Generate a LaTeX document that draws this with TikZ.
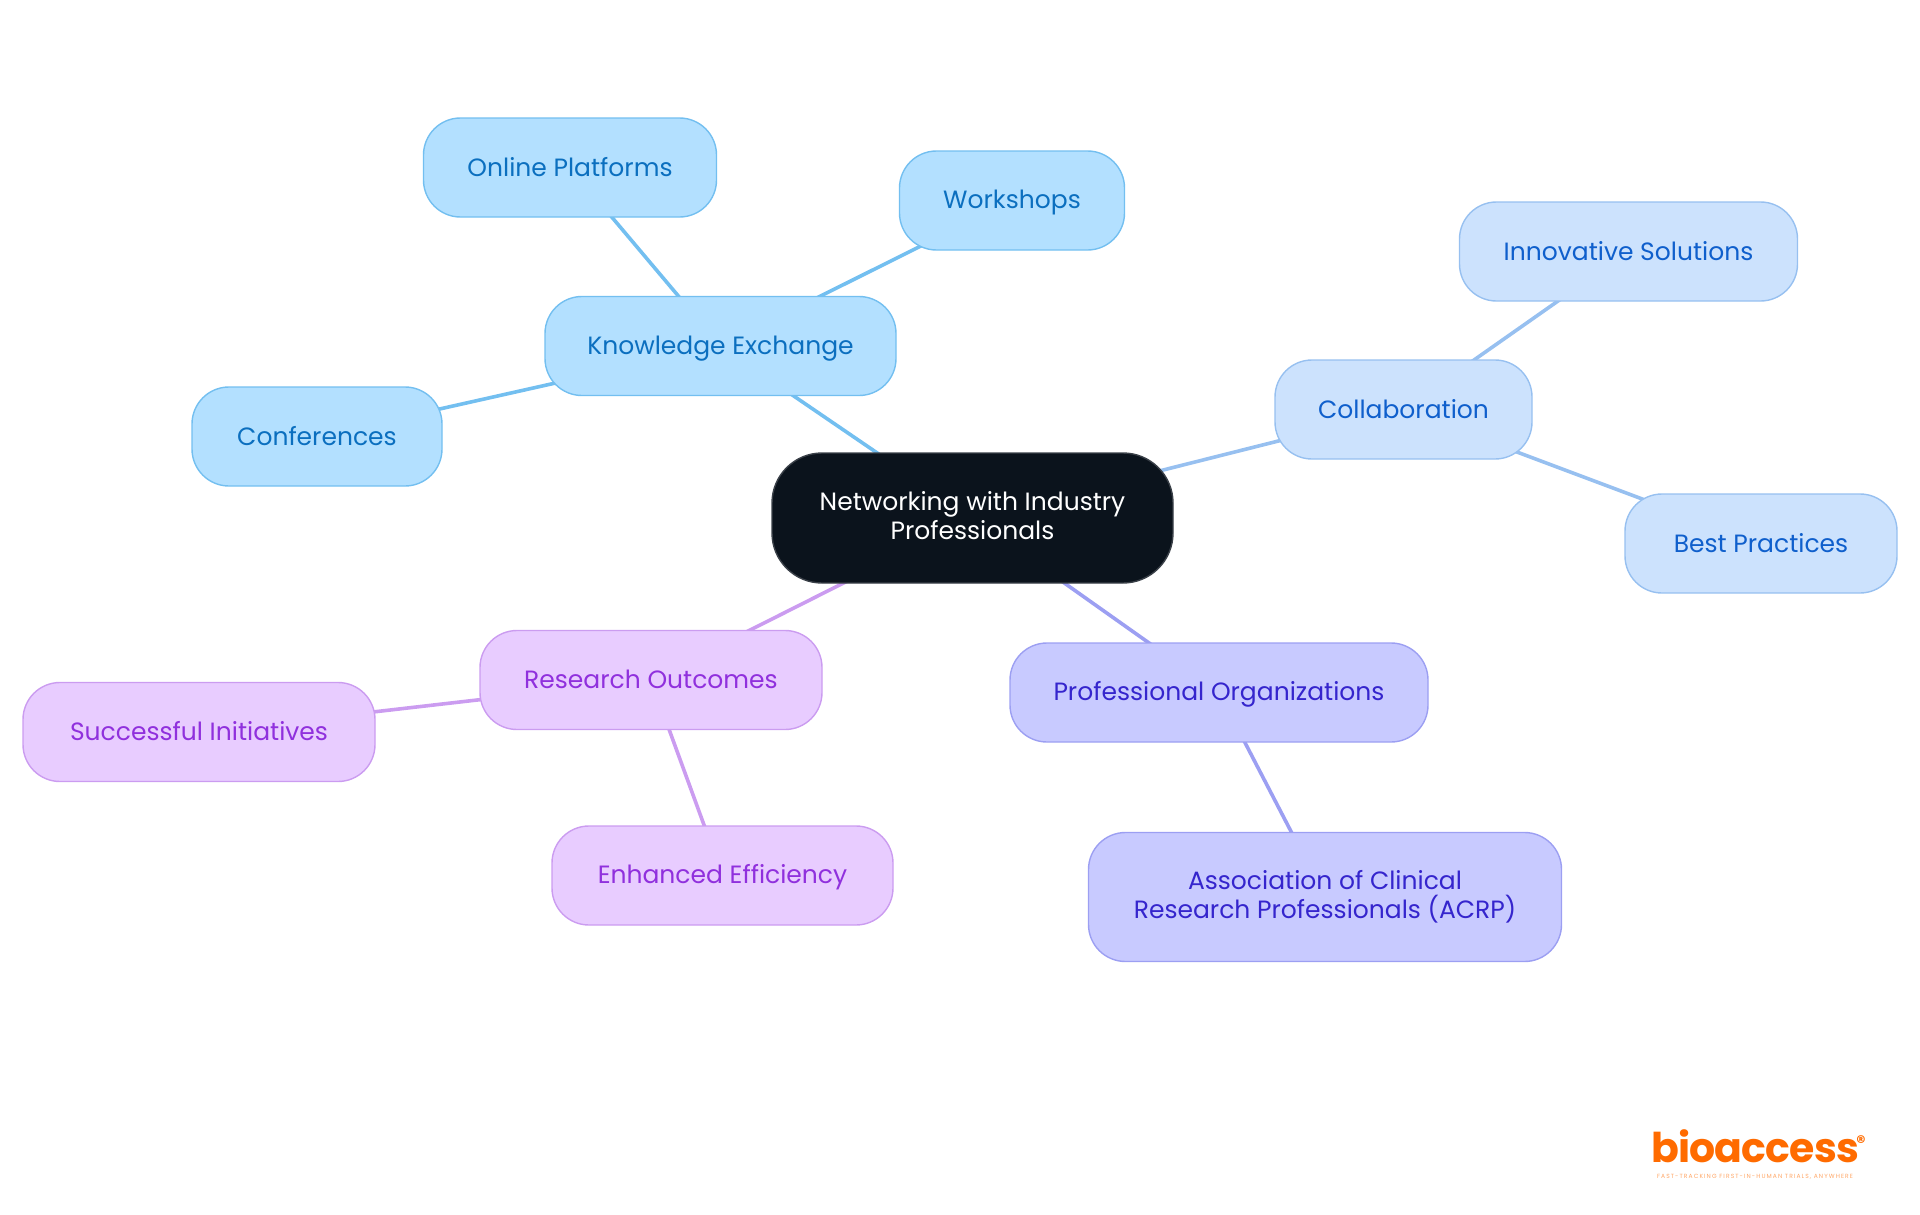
\documentclass[tikz,border=0pt]{standalone}
\usepackage{fontspec}
\setmainfont{Poppins}
\newfontfamily\logofont{Poppins}[LetterSpace=-2]
\newfontfamily\tagfont{Poppins}[LetterSpace=18]
\usetikzlibrary{backgrounds}
\definecolor{rootfill}{HTML}{0B131C}
\definecolor{rootline}{HTML}{3A4048}
\definecolor{skyfill}{HTML}{B3E0FF}
\definecolor{skyline}{HTML}{73BFF0}
\definecolor{skytext}{HTML}{0B6FBF}
\definecolor{palefill}{HTML}{CCE2FD}
\definecolor{paleline}{HTML}{97C0F0}
\definecolor{paletext}{HTML}{0F5FCC}
\definecolor{indfill}{HTML}{C8CAFF}
\definecolor{indline}{HTML}{9C9FF2}
\definecolor{indtext}{HTML}{3525CD}
\definecolor{purfill}{HTML}{E8CCFF}
\definecolor{purline}{HTML}{CB9CF0}
\definecolor{purtext}{HTML}{9030DD}
\definecolor{logoorange}{HTML}{FF6B00}
\newcommand{\boxstrut}{\rule[-6pt]{0pt}{29pt}}
\tikzset{
	box/.style={rounded corners=37pt, line width=1.4pt, inner sep=0pt, align=center, font=\fontsize{25}{29}\selectfont, execute at begin node=\boxstrut, execute at end node=\boxstrut},
	rootbox/.style={box, rounded corners=50pt, fill=rootfill, draw=rootline, text=white},
	skybox/.style={box, fill=skyfill, draw=skyline, text=skytext},
	palebox/.style={box, fill=palefill, draw=paleline, text=paletext},
	indbox/.style={box, fill=indfill, draw=indline, text=indtext},
	purbox/.style={box, fill=purfill, draw=purline, text=purtext},
	link/.style={line width=3.6pt},
}
\begin{document}
\begin{tikzpicture}[x=1pt,y=-1pt]
	\useasboundingbox (0,0) rectangle (1920,1215);
	\node[rootbox, minimum width=401pt, minimum height=130pt] (root) at (972.5,518) {Networking with Industry\\Professionals};

	\node[skybox, minimum width=351pt, minimum height=99pt] (knowledge) at (720.5,346) {Knowledge Exchange};
	\node[skybox, minimum width=293pt, minimum height=99pt] (online) at (570,167.5) {Online Platforms};
	\node[skybox, minimum width=225pt, minimum height=99pt] (workshops) at (1012,200.5) {Workshops};
	\node[skybox, minimum width=250pt, minimum height=99pt] (conferences) at (317,436.5) {Conferences};

	\node[palebox, minimum width=257pt, minimum height=99pt] (collab) at (1403.5,409.5) {Collaboration};
	\node[palebox, minimum width=338pt, minimum height=99pt] (innovative) at (1628.5,251.5) {Innovative Solutions};
	\node[palebox, minimum width=272pt, minimum height=99pt] (practices) at (1761,543.5) {Best Practices};

	\node[indbox, minimum width=418pt, minimum height=99pt] (organizations) at (1219,692.5) {Professional Organizations};
	\node[indbox, minimum width=473pt, minimum height=129pt] (acrp) at (1325,897) {Association of Clinical\\Research Professionals (ACRP)};

	\node[purbox, minimum width=342pt, minimum height=99pt] (outcomes) at (651,680) {Research Outcomes};
	\node[purbox, minimum width=352pt, minimum height=99pt] (initiatives) at (199,732) {Successful Initiatives};
	\node[purbox, minimum width=341pt, minimum height=99pt] (efficiency) at (722.5,875.5) {Enhanced Efficiency};

	\begin{pgfonlayer}{background}
		\draw[link, skyline] (root.center) -- (knowledge.center);
		\draw[link, skyline] (knowledge.center) -- (online.center);
		\draw[link, skyline] (knowledge.center) -- (workshops.center);
		\draw[link, skyline] (knowledge.center) -- (conferences.center);
		\draw[link, paleline] (root.center) -- (collab.center);
		\draw[link, paleline] (collab.center) -- (innovative.center);
		\draw[link, paleline] (collab.center) -- (practices.center);
		\draw[link, indline] (root.center) -- (organizations.center);
		\draw[link, indline] (organizations.center) -- (acrp.center);
		\draw[link, purline] (root.center) -- (outcomes.center);
		\draw[link, purline] (outcomes.center) -- (initiatives.center);
		\draw[link, purline] (outcomes.center) -- (efficiency.center);
	\end{pgfonlayer}

	% logo
	\node[inner sep=0pt, anchor=base, text=logoorange, font=\logofont\fontsize{41}{41}\selectfont\bfseries] (logo) at (1755,1162) {bioaccess};
	\node[inner sep=0pt, text=logoorange, font=\logofont\fontsize{18}{18}\selectfont\bfseries] (reg) at (1861,1142) {\textregistered};
	\node[inner sep=0pt, text=logoorange!60, font=\tagfont\fontsize{6}{6}\selectfont] (tagline) at (1755,1177) {FAST-TRACKING FIRST-IN-HUMAN TRIALS, ANYWHERE};
\end{tikzpicture}
\end{document}
